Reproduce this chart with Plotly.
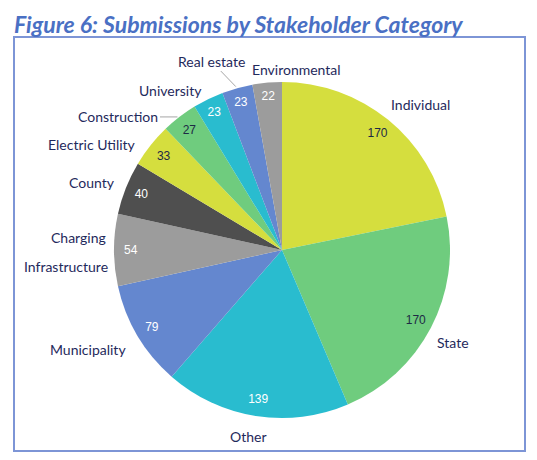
import math
import plotly.graph_objects as go

# data
categories = ["Individual", "State", "Other", "Municipality", "Charging<br>Infrastructure",
              "County", "Electric Utility", "Construction", "University", "Real estate",
              "Environmental"]
submissions = [170, 170, 139, 79, 54, 40, 33, 27, 23, 23, 22]

slice_colors = ["#d5de3e", "#6fcc7e", "#29bccf", "#6487cf", "#9c9c9c", "#4f4f4f",
                "#d5de3e", "#6fcc7e", "#29bccf", "#6487cf", "#9c9c9c"]
value_colors = ["#1d2a45", "#1d2a45", "white", "white", "white", "white",
                "#1d2a45", "#1d2a45", "white", "white", "white"]

# label nudges (px) from the rim point at each slice's mid-angle, Excel style
label_shift = [(32, -15), (22, 14), (-7, 21), (-50, 14), (-42, 2), (-34, -5),
               (-59, -1), (-61, 0), (-38, -9), (-26, -27), (29, -13)]
leader = [False, False, False, False, False, False, False, True, False, True, False]

# page body has an 8px margin, so the figure is a bit smaller than the window
OFF = 8
W, H = 537 - OFF, 460 - OFF
cx, cy, r = 282 - OFF, 250 - OFF, 168

dom = {"x": [(cx - r) / W, (cx + r) / W],
       "y": [(H - cy - r) / H, (H - cy + r) / H]}
clear = ["rgba(0,0,0,0)"] * len(submissions)

pie = go.Pie(labels=categories, values=submissions, sort=False, direction="clockwise",
             rotation=0, marker=dict(colors=slice_colors, line=dict(width=0)),
             textinfo="none", hoverinfo="skip", domain=dom, showlegend=False)

vals = go.Pie(labels=categories, values=submissions, sort=False, direction="clockwise",
              rotation=0, hole=0.8, marker=dict(colors=clear, line=dict(width=0)),
              textinfo="value", textposition="inside", insidetextorientation="horizontal",
              textfont=dict(family="Liberation Sans, Arial", size=12, color=value_colors),
              hoverinfo="skip", domain=dom, showlegend=False)

label_font = dict(family="Lato, Open Sans", size=14, color="#1f2a5c")
annotations = []
total = sum(submissions)
cum = 0
for name, v, (dx, dy), lead in zip(categories, submissions, label_shift, leader):
    mid = math.radians((cum + v / 2) / total * 360)
    cum += v
    px = cx + r * math.sin(mid)
    py = cy - r * math.cos(mid)
    base = dict(x=px / W, y=1 - py / H, xref="paper", yref="paper", font=label_font,
                xanchor="center", yanchor="middle")
    if lead:
        annotations.append(dict(base, text=name, showarrow=True, ax=dx, ay=dy,
                                arrowhead=0, arrowwidth=1, arrowcolor="#a6a6a6",
                                standoff=2))
        continue
    lines = name.split("<br>")
    for i, line in enumerate(lines):
        off = (i - (len(lines) - 1) / 2) * 29
        nudge = 0 if len(lines) == 1 else (6 if i == 0 else -6)
        annotations.append(dict(base, text=line, showarrow=False,
                                xshift=dx + nudge, yshift=-(dy + off)))

annotations.append(dict(text="<b><i>Figure 6: Submissions by Stakeholder Category</i></b>",
                        x=(12 - OFF) / W, y=1, xref="paper", yref="paper",
                        xanchor="left", yanchor="top", showarrow=False,
                        font=dict(family="Lato, Open Sans", size=23, color="#4a70c4")))

fig = go.Figure(data=[pie, vals])
fig.update_layout(
    width=W, height=H,
    margin=dict(l=0, r=0, t=0, b=0),
    paper_bgcolor="white", plot_bgcolor="white",
    annotations=annotations,
    shapes=[dict(type="rect", xref="paper", yref="paper",
                 x0=(14 - OFF) / W, x1=(525 - OFF) / W,
                 y0=1 - (451 - OFF) / H, y1=1 - (37 - OFF) / H,
                 line=dict(color="#7d95d6", width=2))],
)
fig.write_html("out.html")
